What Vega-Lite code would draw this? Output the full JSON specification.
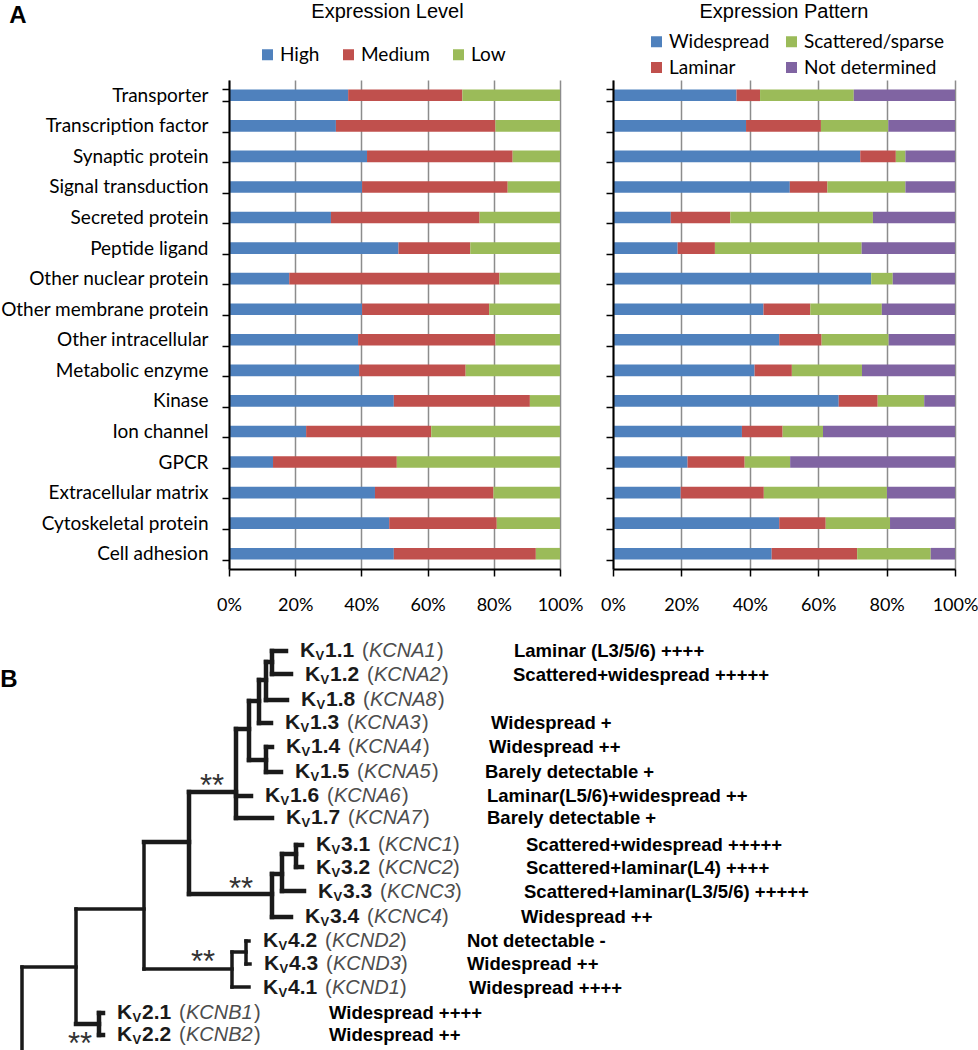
{
  "$schema": "https://vega.github.io/schema/vega-lite/v6.json",
  "padding": {"top": 2, "left": 0, "right": 0, "bottom": 0},
  "background": "white",
  "spacing": 18,
  "title": {"text": "A", "anchor": "start", "orient": "top", "frame": "bounds", "offset": -26, "dx": 9, "font": "Liberation Sans", "fontSize": 24, "fontWeight": "bold", "color": "black"},
  "config": {
    "view": {"stroke": null},
    "axis": {"labelColor": "black", "domainColor": "black", "tickColor": "black"}
  },
  "datasets": {
    "level": [
      {"cat": "Transporter", "level": "High", "pct": 36.0},
      {"cat": "Transporter", "level": "Medium", "pct": 34.5},
      {"cat": "Transporter", "level": "Low", "pct": 29.5},
      {"cat": "Transcription factor", "level": "High", "pct": 32.3},
      {"cat": "Transcription factor", "level": "Medium", "pct": 48.2},
      {"cat": "Transcription factor", "level": "Low", "pct": 19.5},
      {"cat": "Synaptic protein", "level": "High", "pct": 41.7},
      {"cat": "Synaptic protein", "level": "Medium", "pct": 44.0},
      {"cat": "Synaptic protein", "level": "Low", "pct": 14.3},
      {"cat": "Signal transduction", "level": "High", "pct": 40.2},
      {"cat": "Signal transduction", "level": "Medium", "pct": 44.0},
      {"cat": "Signal transduction", "level": "Low", "pct": 15.8},
      {"cat": "Secreted protein", "level": "High", "pct": 30.8},
      {"cat": "Secreted protein", "level": "Medium", "pct": 44.9},
      {"cat": "Secreted protein", "level": "Low", "pct": 24.3},
      {"cat": "Peptide ligand", "level": "High", "pct": 51.2},
      {"cat": "Peptide ligand", "level": "Medium", "pct": 21.7},
      {"cat": "Peptide ligand", "level": "Low", "pct": 27.1},
      {"cat": "Other nuclear protein", "level": "High", "pct": 18.2},
      {"cat": "Other nuclear protein", "level": "Medium", "pct": 63.5},
      {"cat": "Other nuclear protein", "level": "Low", "pct": 18.3},
      {"cat": "Other membrane protein", "level": "High", "pct": 40.2},
      {"cat": "Other membrane protein", "level": "Medium", "pct": 38.4},
      {"cat": "Other membrane protein", "level": "Low", "pct": 21.4},
      {"cat": "Other intracellular", "level": "High", "pct": 39.0},
      {"cat": "Other intracellular", "level": "Medium", "pct": 41.5},
      {"cat": "Other intracellular", "level": "Low", "pct": 19.5},
      {"cat": "Metabolic enzyme", "level": "High", "pct": 39.3},
      {"cat": "Metabolic enzyme", "level": "Medium", "pct": 32.2},
      {"cat": "Metabolic enzyme", "level": "Low", "pct": 28.5},
      {"cat": "Kinase", "level": "High", "pct": 49.8},
      {"cat": "Kinase", "level": "Medium", "pct": 41.1},
      {"cat": "Kinase", "level": "Low", "pct": 9.1},
      {"cat": "Ion channel", "level": "High", "pct": 23.3},
      {"cat": "Ion channel", "level": "Medium", "pct": 37.8},
      {"cat": "Ion channel", "level": "Low", "pct": 38.9},
      {"cat": "GPCR", "level": "High", "pct": 13.3},
      {"cat": "GPCR", "level": "Medium", "pct": 37.4},
      {"cat": "GPCR", "level": "Low", "pct": 49.3},
      {"cat": "Extracellular matrix", "level": "High", "pct": 44.1},
      {"cat": "Extracellular matrix", "level": "Medium", "pct": 35.8},
      {"cat": "Extracellular matrix", "level": "Low", "pct": 20.1},
      {"cat": "Cytoskeletal protein", "level": "High", "pct": 48.4},
      {"cat": "Cytoskeletal protein", "level": "Medium", "pct": 32.5},
      {"cat": "Cytoskeletal protein", "level": "Low", "pct": 19.1},
      {"cat": "Cell adhesion", "level": "High", "pct": 49.8},
      {"cat": "Cell adhesion", "level": "Medium", "pct": 42.9},
      {"cat": "Cell adhesion", "level": "Low", "pct": 7.3}
    ],
    "pattern": [
      {"cat": "Transporter", "pattern": "Widespread", "pct": 36.1},
      {"cat": "Transporter", "pattern": "Laminar", "pct": 6.9},
      {"cat": "Transporter", "pattern": "Scattered/sparse", "pct": 27.4},
      {"cat": "Transporter", "pattern": "Not determined", "pct": 29.6},
      {"cat": "Transcription factor", "pattern": "Widespread", "pct": 38.9},
      {"cat": "Transcription factor", "pattern": "Laminar", "pct": 21.9},
      {"cat": "Transcription factor", "pattern": "Scattered/sparse", "pct": 19.7},
      {"cat": "Transcription factor", "pattern": "Not determined", "pct": 19.5},
      {"cat": "Synaptic protein", "pattern": "Widespread", "pct": 72.3},
      {"cat": "Synaptic protein", "pattern": "Laminar", "pct": 10.4},
      {"cat": "Synaptic protein", "pattern": "Scattered/sparse", "pct": 2.8},
      {"cat": "Synaptic protein", "pattern": "Not determined", "pct": 14.5},
      {"cat": "Signal transduction", "pattern": "Widespread", "pct": 51.7},
      {"cat": "Signal transduction", "pattern": "Laminar", "pct": 11.0},
      {"cat": "Signal transduction", "pattern": "Scattered/sparse", "pct": 22.8},
      {"cat": "Signal transduction", "pattern": "Not determined", "pct": 14.5},
      {"cat": "Secreted protein", "pattern": "Widespread", "pct": 16.9},
      {"cat": "Secreted protein", "pattern": "Laminar", "pct": 17.4},
      {"cat": "Secreted protein", "pattern": "Scattered/sparse", "pct": 41.7},
      {"cat": "Secreted protein", "pattern": "Not determined", "pct": 24.0},
      {"cat": "Peptide ligand", "pattern": "Widespread", "pct": 18.9},
      {"cat": "Peptide ligand", "pattern": "Laminar", "pct": 10.9},
      {"cat": "Peptide ligand", "pattern": "Scattered/sparse", "pct": 42.9},
      {"cat": "Peptide ligand", "pattern": "Not determined", "pct": 27.3},
      {"cat": "Other nuclear protein", "pattern": "Widespread", "pct": 75.5},
      {"cat": "Other nuclear protein", "pattern": "Scattered/sparse", "pct": 6.3},
      {"cat": "Other nuclear protein", "pattern": "Not determined", "pct": 18.2},
      {"cat": "Other membrane protein", "pattern": "Widespread", "pct": 44.0},
      {"cat": "Other membrane protein", "pattern": "Laminar", "pct": 13.7},
      {"cat": "Other membrane protein", "pattern": "Scattered/sparse", "pct": 20.9},
      {"cat": "Other membrane protein", "pattern": "Not determined", "pct": 21.4},
      {"cat": "Other intracellular", "pattern": "Widespread", "pct": 48.6},
      {"cat": "Other intracellular", "pattern": "Laminar", "pct": 12.4},
      {"cat": "Other intracellular", "pattern": "Scattered/sparse", "pct": 19.6},
      {"cat": "Other intracellular", "pattern": "Not determined", "pct": 19.4},
      {"cat": "Metabolic enzyme", "pattern": "Widespread", "pct": 41.4},
      {"cat": "Metabolic enzyme", "pattern": "Laminar", "pct": 10.9},
      {"cat": "Metabolic enzyme", "pattern": "Scattered/sparse", "pct": 20.5},
      {"cat": "Metabolic enzyme", "pattern": "Not determined", "pct": 27.2},
      {"cat": "Kinase", "pattern": "Widespread", "pct": 66.0},
      {"cat": "Kinase", "pattern": "Laminar", "pct": 11.4},
      {"cat": "Kinase", "pattern": "Scattered/sparse", "pct": 13.6},
      {"cat": "Kinase", "pattern": "Not determined", "pct": 9.0},
      {"cat": "Ion channel", "pattern": "Widespread", "pct": 37.7},
      {"cat": "Ion channel", "pattern": "Laminar", "pct": 11.9},
      {"cat": "Ion channel", "pattern": "Scattered/sparse", "pct": 11.8},
      {"cat": "Ion channel", "pattern": "Not determined", "pct": 38.6},
      {"cat": "GPCR", "pattern": "Widespread", "pct": 21.8},
      {"cat": "GPCR", "pattern": "Laminar", "pct": 16.7},
      {"cat": "GPCR", "pattern": "Scattered/sparse", "pct": 13.3},
      {"cat": "GPCR", "pattern": "Not determined", "pct": 48.2},
      {"cat": "Extracellular matrix", "pattern": "Widespread", "pct": 19.8},
      {"cat": "Extracellular matrix", "pattern": "Laminar", "pct": 24.3},
      {"cat": "Extracellular matrix", "pattern": "Scattered/sparse", "pct": 36.0},
      {"cat": "Extracellular matrix", "pattern": "Not determined", "pct": 19.9},
      {"cat": "Cytoskeletal protein", "pattern": "Widespread", "pct": 48.6},
      {"cat": "Cytoskeletal protein", "pattern": "Laminar", "pct": 13.6},
      {"cat": "Cytoskeletal protein", "pattern": "Scattered/sparse", "pct": 18.8},
      {"cat": "Cytoskeletal protein", "pattern": "Not determined", "pct": 19.0},
      {"cat": "Cell adhesion", "pattern": "Widespread", "pct": 46.4},
      {"cat": "Cell adhesion", "pattern": "Laminar", "pct": 25.0},
      {"cat": "Cell adhesion", "pattern": "Scattered/sparse", "pct": 21.5},
      {"cat": "Cell adhesion", "pattern": "Not determined", "pct": 7.1}
    ],
    "thin": [
      {"x1": 23, "y1": 965, "x2": 23, "y2": 1050},
      {"x1": 23, "y1": 965, "x2": 77, "y2": 965},
      {"x1": 77, "y1": 907, "x2": 77, "y2": 1022},
      {"x1": 77, "y1": 907, "x2": 145, "y2": 907},
      {"x1": 145, "y1": 840, "x2": 145, "y2": 967},
      {"x1": 145, "y1": 967, "x2": 233, "y2": 967},
      {"x1": 233, "y1": 950, "x2": 233, "y2": 985},
      {"x1": 233, "y1": 985, "x2": 250, "y2": 985},
      {"x1": 233, "y1": 950, "x2": 247, "y2": 950},
      {"x1": 247, "y1": 939, "x2": 247, "y2": 962},
      {"x1": 247, "y1": 939, "x2": 250, "y2": 939},
      {"x1": 247, "y1": 962, "x2": 251, "y2": 962}
    ],
    "thick": [
      {"x1": 77, "y1": 1022, "x2": 100, "y2": 1022},
      {"x1": 100, "y1": 1011, "x2": 100, "y2": 1033},
      {"x1": 100, "y1": 1011, "x2": 104, "y2": 1011},
      {"x1": 100, "y1": 1033, "x2": 104, "y2": 1033},
      {"x1": 145, "y1": 840, "x2": 190, "y2": 840},
      {"x1": 190, "y1": 790, "x2": 190, "y2": 892},
      {"x1": 190, "y1": 892, "x2": 273, "y2": 892},
      {"x1": 273, "y1": 872, "x2": 273, "y2": 915},
      {"x1": 273, "y1": 915, "x2": 292, "y2": 915},
      {"x1": 273, "y1": 872, "x2": 283, "y2": 872},
      {"x1": 283, "y1": 852, "x2": 283, "y2": 889},
      {"x1": 283, "y1": 889, "x2": 305, "y2": 889},
      {"x1": 283, "y1": 852, "x2": 297, "y2": 852},
      {"x1": 297, "y1": 843, "x2": 297, "y2": 865},
      {"x1": 297, "y1": 843, "x2": 303, "y2": 843},
      {"x1": 297, "y1": 865, "x2": 303, "y2": 865},
      {"x1": 190, "y1": 790, "x2": 237, "y2": 790},
      {"x1": 237, "y1": 727, "x2": 237, "y2": 816},
      {"x1": 237, "y1": 816, "x2": 273, "y2": 816},
      {"x1": 237, "y1": 794, "x2": 252, "y2": 794},
      {"x1": 237, "y1": 727, "x2": 250, "y2": 727},
      {"x1": 250, "y1": 699, "x2": 250, "y2": 758},
      {"x1": 250, "y1": 758, "x2": 267, "y2": 758},
      {"x1": 267, "y1": 745, "x2": 267, "y2": 770},
      {"x1": 267, "y1": 745, "x2": 273, "y2": 745},
      {"x1": 267, "y1": 770, "x2": 282, "y2": 770},
      {"x1": 250, "y1": 699, "x2": 260, "y2": 699},
      {"x1": 260, "y1": 678, "x2": 260, "y2": 721},
      {"x1": 260, "y1": 721, "x2": 272, "y2": 721},
      {"x1": 260, "y1": 678, "x2": 267, "y2": 678},
      {"x1": 267, "y1": 660, "x2": 267, "y2": 698},
      {"x1": 267, "y1": 698, "x2": 288, "y2": 698},
      {"x1": 267, "y1": 660, "x2": 273, "y2": 660},
      {"x1": 273, "y1": 649, "x2": 273, "y2": 672},
      {"x1": 273, "y1": 649, "x2": 287, "y2": 649},
      {"x1": 273, "y1": 672, "x2": 292, "y2": 672}
    ],
    "leaves": [
      {"tipx": 287, "y": 649, "num": "1.1", "gene": "KCNA1", "descx": 515, "desc": "Laminar (L3/5/6) ++++"},
      {"tipx": 292, "y": 673, "num": "1.2", "gene": "KCNA2", "descx": 514, "desc": "Scattered+widespread +++++"},
      {"tipx": 288, "y": 698, "num": "1.8", "gene": "KCNA8", "descx": 514, "desc": ""},
      {"tipx": 272, "y": 721, "num": "1.3", "gene": "KCNA3", "descx": 492, "desc": "Widespread +"},
      {"tipx": 273, "y": 745, "num": "1.4", "gene": "KCNA4", "descx": 490, "desc": "Widespread ++"},
      {"tipx": 282, "y": 770, "num": "1.5", "gene": "KCNA5", "descx": 486, "desc": "Barely detectable +"},
      {"tipx": 252, "y": 794, "num": "1.6", "gene": "KCNA6", "descx": 488, "desc": "Laminar(L5/6)+widespread ++"},
      {"tipx": 273, "y": 816, "num": "1.7", "gene": "KCNA7", "descx": 488, "desc": "Barely detectable +"},
      {"tipx": 303, "y": 843, "num": "3.1", "gene": "KCNC1", "descx": 527, "desc": "Scattered+widespread +++++"},
      {"tipx": 303, "y": 866, "num": "3.2", "gene": "KCNC2", "descx": 527, "desc": "Scattered+laminar(L4) ++++"},
      {"tipx": 305, "y": 890, "num": "3.3", "gene": "KCNC3", "descx": 525, "desc": "Scattered+laminar(L3/5/6) +++++"},
      {"tipx": 292, "y": 915, "num": "3.4", "gene": "KCNC4", "descx": 522, "desc": "Widespread ++"},
      {"tipx": 250, "y": 939, "num": "4.2", "gene": "KCND2", "descx": 468, "desc": "Not detectable -"},
      {"tipx": 251, "y": 962, "num": "4.3", "gene": "KCND3", "descx": 468, "desc": "Widespread ++"},
      {"tipx": 250, "y": 986, "num": "4.1", "gene": "KCND1", "descx": 470, "desc": "Widespread ++++"},
      {"tipx": 104, "y": 1011, "num": "2.1", "gene": "KCNB1", "descx": 330, "desc": "Widespread ++++"},
      {"tipx": 104, "y": 1033, "num": "2.2", "gene": "KCNB2", "descx": 330, "desc": "Widespread ++"}
    ],
    "stars": [
      {"x": 213, "y": 777, "t": "**"},
      {"x": 242, "y": 880, "t": "**"},
      {"x": 204, "y": 953, "t": "**"},
      {"x": 81, "y": 1035, "t": "**"}
    ],
    "panels": [
      {"x": 10, "y": 678, "t": "B"}
    ]
  },
  "resolve": {"scale": {"color": "independent"}, "legend": {"color": "independent"}},
  "vconcat": [
    {
      "bounds": "flush",
      "spacing": 53,
      "resolve": {"scale": {"color": "independent"}, "legend": {"color": "independent"}},
      "hconcat": [
        {
          "width": 331,
          "height": 489,
          "title": {"text": "Expression Level", "font": "Liberation Sans", "fontSize": 20, "fontWeight": "normal", "color": "black", "offset": 23, "dx": -7},
          "data": {"name": "level"},
          "transform": [{"calculate": "indexof(['High','Medium','Low'], datum.level)", "as": "k"}],
          "mark": {"type": "bar"},
          "encoding": {
            "y": {
              "field": "cat", "type": "nominal",
              "sort": ["Transporter","Transcription factor","Synaptic protein","Signal transduction","Secreted protein","Peptide ligand","Other nuclear protein","Other membrane protein","Other intracellular","Metabolic enzyme","Kinase","Ion channel","GPCR","Extracellular matrix","Cytoskeletal protein","Cell adhesion"],
              "scale": {"paddingInner": 0.62, "paddingOuter": 0.31},
              "axis": {"title": null, "labelFont": "Lato", "labelFontSize": 19, "labelLimit": 300, "labelPadding": 14, "tickSize": 7, "tickWidth": 1.5, "domainWidth": 2, "tickBand": "extent", "zindex": 1}
            },
            "x": {
              "field": "pct", "type": "quantitative", "stack": "zero",
              "scale": {"domain": [0, 100], "nice": false},
              "axis": {"title": null, "values": [0, 20, 40, 60, 80, 100], "labelExpr": "datum.value + '%'", "grid": true, "gridColor": "#8c8c8c", "gridWidth": 1.5, "domainWidth": 2, "tickSize": 7, "tickWidth": 1.5, "labelPadding": 20, "labelFont": "Lato", "labelFontSize": 18, "labelFlush": false}
            },
            "color": {
              "field": "level", "type": "nominal",
              "scale": {"domain": ["High", "Medium", "Low"], "range": ["#4F81BD", "#C0504D", "#9BBB59"]},
              "legend": {"orient": "none", "legendX": 29, "legendY": -35, "direction": "horizontal", "title": null, "symbolType": "square", "symbolSize": 121, "symbolStrokeWidth": 0, "labelFont": "Lato", "labelFontSize": 19, "labelColor": "black", "labelOffset": 3, "columnPadding": 19}
            },
            "order": {"field": "k"}
          }
        },
        {
          "width": 342,
          "height": 489,
          "title": {"text": "Expression Pattern", "font": "Liberation Sans", "fontSize": 20, "fontWeight": "normal", "color": "black", "offset": 10},
          "data": {"name": "pattern"},
          "transform": [{"calculate": "indexof(['Widespread','Laminar','Scattered/sparse','Not determined'], datum.pattern)", "as": "k"}],
          "mark": {"type": "bar"},
          "encoding": {
            "y": {
              "field": "cat", "type": "nominal",
              "sort": ["Transporter","Transcription factor","Synaptic protein","Signal transduction","Secreted protein","Peptide ligand","Other nuclear protein","Other membrane protein","Other intracellular","Metabolic enzyme","Kinase","Ion channel","GPCR","Extracellular matrix","Cytoskeletal protein","Cell adhesion"],
              "scale": {"paddingInner": 0.62, "paddingOuter": 0.31},
              "axis": {"title": null, "labels": false, "tickSize": 7, "tickWidth": 1.5, "domainWidth": 2, "tickBand": "extent", "zindex": 1}
            },
            "x": {
              "field": "pct", "type": "quantitative", "stack": "zero",
              "scale": {"domain": [0, 100], "nice": false},
              "axis": {"title": null, "values": [0, 20, 40, 60, 80, 100], "labelExpr": "datum.value + '%'", "grid": true, "gridColor": "#8c8c8c", "gridWidth": 1.5, "domainWidth": 2, "tickSize": 7, "tickWidth": 1.5, "labelPadding": 20, "labelFont": "Lato", "labelFontSize": 18, "labelFlush": false}
            },
            "color": {
              "field": "pattern", "type": "nominal",
              "scale": {"domain": ["Widespread", "Scattered/sparse", "Laminar", "Not determined"], "range": ["#4F81BD", "#9BBB59", "#C0504D", "#8064A2"]},
              "legend": {"orient": "none", "legendX": 34, "legendY": -48, "direction": "horizontal", "columns": 2, "title": null, "symbolType": "square", "symbolSize": 121, "symbolStrokeWidth": 0, "labelFont": "Lato", "labelFontSize": 19, "labelColor": "black", "labelOffset": 3, "columnPadding": 12, "rowPadding": 6}
            },
            "order": {"field": "k"}
          }
        }
      ]
    },
    {
      "width": 748,
      "height": 420,
      "layer": [
        {
          "data": {"name": "thin"},
          "mark": {"type": "rule", "strokeWidth": 3.5, "strokeCap": "square", "color": "#1a1a1a"},
          "encoding": {
            "x": {"field": "x1", "type": "quantitative", "scale": {"domain": [230, 978], "nice": false, "zero": false}, "axis": null},
            "x2": {"field": "x2"},
            "y": {"field": "y1", "type": "quantitative", "scale": {"domain": [630, 1050], "nice": false, "zero": false, "reverse": true}, "axis": null},
            "y2": {"field": "y2"}
          }
        },
        {
          "data": {"name": "thick"},
          "mark": {"type": "rule", "strokeWidth": 4.5, "strokeCap": "square", "color": "#1a1a1a"},
          "encoding": {
            "x": {"field": "x1", "type": "quantitative", "scale": {"domain": [230, 978], "nice": false, "zero": false}, "axis": null},
            "x2": {"field": "x2"},
            "y": {"field": "y1", "type": "quantitative", "scale": {"domain": [630, 1050], "nice": false, "zero": false, "reverse": true}, "axis": null},
            "y2": {"field": "y2"}
          }
        },
        {
          "data": {"name": "leaves"},
          "mark": {"type": "text", "text": "K", "align": "left", "baseline": "middle", "dx": 14, "font": "Liberation Sans", "fontWeight": "bold", "fontSize": 21, "color": "#1a1a1a"},
          "encoding": {
            "x": {"field": "tipx", "type": "quantitative", "scale": {"domain": [230, 978], "nice": false, "zero": false}, "axis": null},
            "y": {"field": "y", "type": "quantitative", "scale": {"domain": [630, 1050], "nice": false, "zero": false, "reverse": true}, "axis": null}
          }
        },
        {
          "data": {"name": "leaves"},
          "mark": {"type": "text", "text": "V", "align": "left", "baseline": "middle", "dx": 29.5, "dy": 5, "font": "Liberation Sans", "fontWeight": "bold", "fontSize": 13, "color": "#1a1a1a"},
          "encoding": {
            "x": {"field": "tipx", "type": "quantitative", "scale": {"domain": [230, 978], "nice": false, "zero": false}, "axis": null},
            "y": {"field": "y", "type": "quantitative", "scale": {"domain": [630, 1050], "nice": false, "zero": false, "reverse": true}, "axis": null}
          }
        },
        {
          "data": {"name": "leaves"},
          "mark": {"type": "text", "align": "left", "baseline": "middle", "dx": 39, "font": "Liberation Sans", "fontWeight": "bold", "fontSize": 21, "color": "#1a1a1a"},
          "encoding": {
            "x": {"field": "tipx", "type": "quantitative", "scale": {"domain": [230, 978], "nice": false, "zero": false}, "axis": null},
            "y": {"field": "y", "type": "quantitative", "scale": {"domain": [630, 1050], "nice": false, "zero": false, "reverse": true}, "axis": null},
            "text": {"field": "num"}
          }
        },
        {
          "data": {"name": "leaves"},
          "mark": {"type": "text", "text": "(", "align": "left", "baseline": "middle", "dx": 76, "font": "Liberation Sans", "fontSize": 20, "color": "#4d4d4d"},
          "encoding": {
            "x": {"field": "tipx", "type": "quantitative", "scale": {"domain": [230, 978], "nice": false, "zero": false}, "axis": null},
            "y": {"field": "y", "type": "quantitative", "scale": {"domain": [630, 1050], "nice": false, "zero": false, "reverse": true}, "axis": null}
          }
        },
        {
          "data": {"name": "leaves"},
          "mark": {"type": "text", "align": "left", "baseline": "middle", "dx": 83, "font": "Liberation Sans", "fontStyle": "italic", "fontSize": 20, "color": "#4d4d4d"},
          "encoding": {
            "x": {"field": "tipx", "type": "quantitative", "scale": {"domain": [230, 978], "nice": false, "zero": false}, "axis": null},
            "y": {"field": "y", "type": "quantitative", "scale": {"domain": [630, 1050], "nice": false, "zero": false, "reverse": true}, "axis": null},
            "text": {"field": "gene"}
          }
        },
        {
          "data": {"name": "leaves"},
          "mark": {"type": "text", "text": ")", "align": "left", "baseline": "middle", "dx": 151, "font": "Liberation Sans", "fontSize": 20, "color": "#4d4d4d"},
          "encoding": {
            "x": {"field": "tipx", "type": "quantitative", "scale": {"domain": [230, 978], "nice": false, "zero": false}, "axis": null},
            "y": {"field": "y", "type": "quantitative", "scale": {"domain": [630, 1050], "nice": false, "zero": false, "reverse": true}, "axis": null}
          }
        },
        {
          "data": {"name": "leaves"},
          "mark": {"type": "text", "align": "left", "baseline": "middle", "font": "Liberation Sans", "fontWeight": "bold", "fontSize": 18.5, "color": "black"},
          "encoding": {
            "x": {"field": "descx", "type": "quantitative", "scale": {"domain": [230, 978], "nice": false, "zero": false}, "axis": null},
            "y": {"field": "y", "type": "quantitative", "scale": {"domain": [630, 1050], "nice": false, "zero": false, "reverse": true}, "axis": null},
            "text": {"field": "desc"}
          }
        },
        {
          "data": {"name": "stars"},
          "mark": {"type": "text", "align": "center", "baseline": "alphabetic", "dy": 17, "font": "Liberation Sans", "fontSize": 31, "color": "#333333"},
          "encoding": {
            "x": {"field": "x", "type": "quantitative", "scale": {"domain": [230, 978], "nice": false, "zero": false}, "axis": null},
            "y": {"field": "y", "type": "quantitative", "scale": {"domain": [630, 1050], "nice": false, "zero": false, "reverse": true}, "axis": null},
            "text": {"field": "t"}
          }
        },
        {
          "data": {"name": "panels"},
          "mark": {"type": "text", "align": "center", "baseline": "middle", "font": "Liberation Sans", "fontWeight": "bold", "fontSize": 24, "color": "black"},
          "encoding": {
            "x": {"field": "x", "type": "quantitative", "scale": {"domain": [230, 978], "nice": false, "zero": false}, "axis": null},
            "y": {"field": "y", "type": "quantitative", "scale": {"domain": [630, 1050], "nice": false, "zero": false, "reverse": true}, "axis": null},
            "text": {"field": "t"}
          }
        }
      ]
    }
  ]
}
